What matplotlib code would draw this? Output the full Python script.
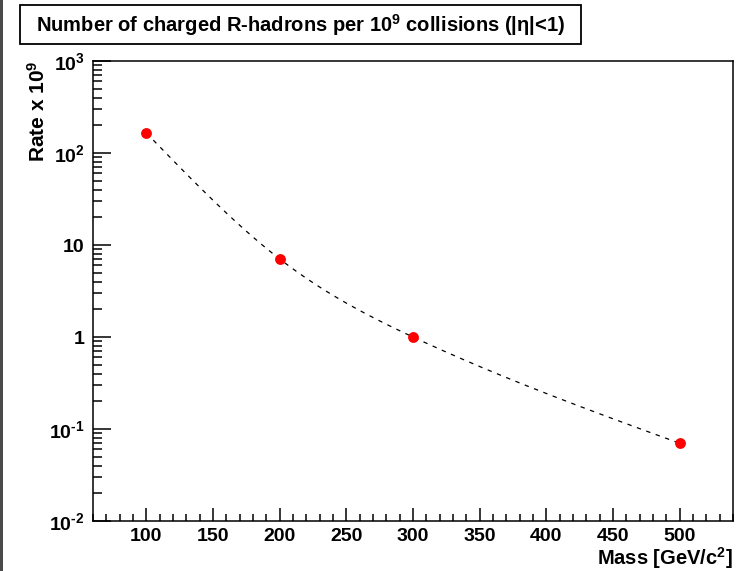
import matplotlib.pyplot as plt
import numpy as np
from matplotlib.patches import Rectangle
from matplotlib.ticker import FixedLocator, LogLocator, NullFormatter, MultipleLocator

plt.rcParams['font.family'] = ['Liberation Sans', 'DejaVu Sans']
plt.rcParams['font.weight'] = 'bold'
plt.rcParams['mathtext.fontset'] = 'custom'
plt.rcParams['mathtext.rm'] = 'Liberation Sans:bold'
plt.rcParams['mathtext.it'] = 'Liberation Sans:bold'
plt.rcParams['mathtext.bf'] = 'Liberation Sans:bold'

# R-hadron rates vs. mass
mass = [100, 200, 300, 500]
rate = [165, 7.05, 1.0, 0.07]

ytick_vals = [0.01, 0.1, 1, 10, 100, 1000]
ytick_labels = ['10$^{\\text{-}2}$', '10$^{\\text{-}1}$', '1', '10', '10$^{2}$', '10$^{3}$']
xtick_vals = [100, 150, 200, 250, 300, 350, 400, 450, 500]


def natural_spline(x, y, n=300):
    # natural cubic spline through the points, for the smooth curve
    x = np.asarray(x, float)
    y = np.asarray(y, float)
    k = len(x)
    h = np.diff(x)
    A = np.zeros((k, k))
    b = np.zeros(k)
    A[0, 0] = A[-1, -1] = 1
    for i in range(1, k - 1):
        A[i, i - 1] = h[i - 1]
        A[i, i] = 2 * (h[i - 1] + h[i])
        A[i, i + 1] = h[i]
        b[i] = 6 * ((y[i + 1] - y[i]) / h[i] - (y[i] - y[i - 1]) / h[i - 1])
    m = np.linalg.solve(A, b)
    xs = np.linspace(x[0], x[-1], n)
    idx = np.clip(np.searchsorted(x, xs) - 1, 0, k - 2)
    x0, x1 = x[idx], x[idx + 1]
    hh = x1 - x0
    t0, t1 = x1 - xs, xs - x0
    ys = (m[idx] * t0 ** 3 + m[idx + 1] * t1 ** 3) / (6 * hh) \
        + (y[idx] / hh - m[idx] * hh / 6) * t0 \
        + (y[idx + 1] / hh - m[idx + 1] * hh / 6) * t1
    return xs, ys


fig = plt.figure(figsize=(7.46, 5.71), dpi=100)
ax = fig.add_axes([93 / 746, 1 - 521 / 571, 640 / 746, 460 / 571])

xs, ys = natural_spline(mass, np.log10(rate))
ax.plot(xs, 10 ** ys, color='black', lw=0.9, linestyle=(0, (3.5, 4.5)))
ax.plot(mass, rate, 'o', color='red', markersize=7.8, markeredgewidth=0)

ax.set_yscale('log')
ax.set_xlim(60, 540)
ax.set_ylim(0.01, 1000)

ax.xaxis.set_major_locator(FixedLocator(xtick_vals))
ax.xaxis.set_minor_locator(MultipleLocator(10))
ax.set_xticklabels([str(v) for v in xtick_vals])
ax.yaxis.set_major_locator(FixedLocator(ytick_vals))
ax.set_yticklabels(ytick_labels)
ax.yaxis.set_minor_locator(LogLocator(base=10, subs=np.arange(2, 10)))
ax.yaxis.set_minor_formatter(NullFormatter())

ax.tick_params(axis='both', which='both', direction='in', top=False, right=False,
               labelsize=14, width=1.1, color='black')
ax.tick_params(axis='x', which='major', length=9.5, pad=5)
ax.tick_params(axis='x', which='minor', length=5)
ax.tick_params(axis='y', which='major', length=13, pad=6)
ax.tick_params(axis='y', which='minor', length=6.5)
for s in ax.spines.values():
    s.set_linewidth(1.1)

ax.set_xlabel('Mass [GeV/c$^{2}$]', fontsize=14.5, fontweight='bold', ha='right', x=1.0, labelpad=0)
ax.set_ylabel('Rate x 10$^{9}$', fontsize=15, fontweight='bold', ha='right', y=1.0, labelpad=0)

# title box
fig.patches.append(Rectangle((20 / 746, 1 - 44 / 571), 561 / 746, 39 / 571,
                             transform=fig.transFigure, facecolor='white',
                             edgecolor='black', linewidth=1.3))
fig.text(301 / 746, 1 - 25 / 571,
         'Number of charged R-hadrons per 10$^{9}$ collisions (|$\\eta$|<1)',
         ha='center', va='center', fontsize=14.5, fontweight='bold')

# canvas edge on the left
fig.patches.append(Rectangle((0, 0), 3 / 746, 1, transform=fig.transFigure,
                             facecolor='#4a4a4a', edgecolor='none'))

fig.savefig('out.png', dpi=100)
